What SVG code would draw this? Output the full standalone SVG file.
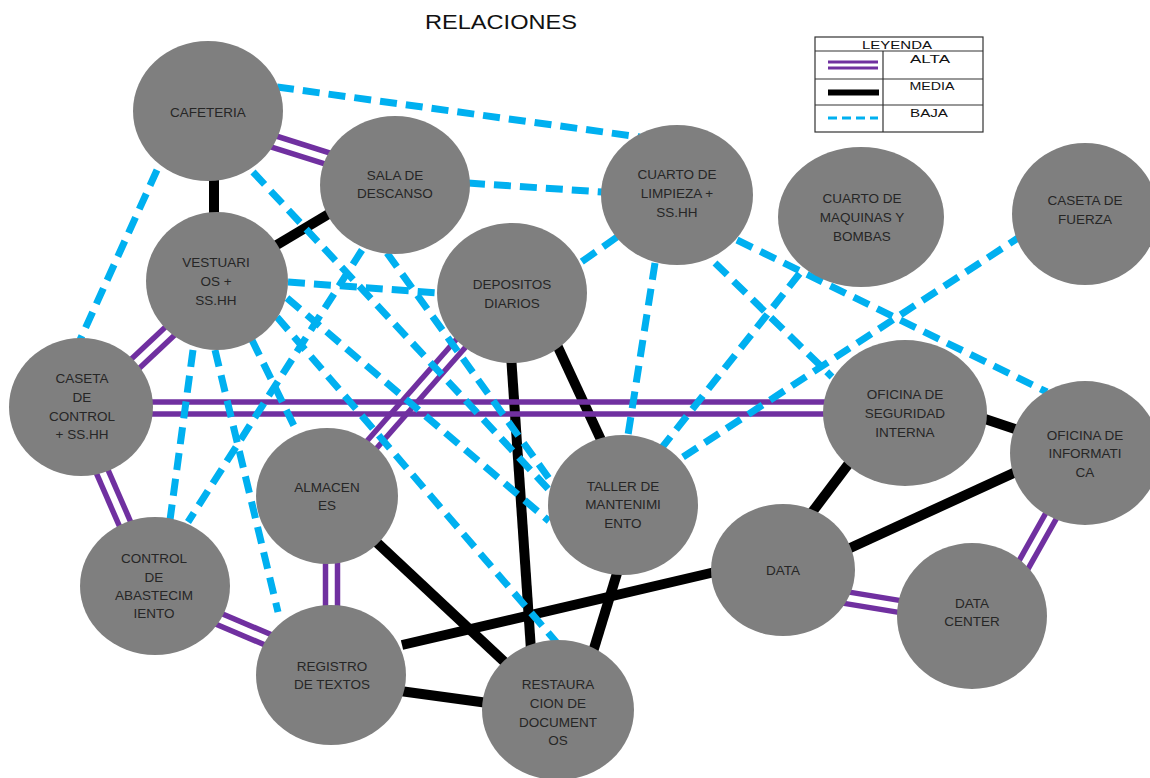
<svg xmlns="http://www.w3.org/2000/svg" width="1150" height="778" viewBox="0 0 1150 778">
<style>
.bg{fill:#ffffff}
.node{fill:#7f7f7f}
.lbl{font-family:"Liberation Sans",Arial,sans-serif;font-size:13.5px;fill:#262626;text-anchor:middle}
.title{font-family:"Liberation Sans",Arial,sans-serif;font-size:21px;fill:#111;text-anchor:middle}
.leg{font-family:"Liberation Sans",Arial,sans-serif;font-size:10.5px;fill:#111;text-anchor:middle}
.alta{stroke:#7030a0;stroke-width:5.5;fill:none}
.media{stroke:#000;stroke-width:10;fill:none}
.baja{stroke:#00b0f0;stroke-width:7;stroke-dasharray:17 9;fill:none}
.grid{stroke:#333;stroke-width:1.2;fill:none}
</style>
<rect class="bg" x="0" y="0" width="1150" height="778"/>
<text class="title" x="501" y="29" textLength="152" lengthAdjust="spacingAndGlyphs">RELACIONES</text>

<g id="connectors">
  <g id="media">
    <line class="media" x1="214" y1="175" x2="214" y2="218"/>
    <line class="media" x1="275" y1="246" x2="332" y2="212"/>
    <line class="media" x1="511" y1="355" x2="531" y2="650"/>
    <line class="media" x1="557" y1="345" x2="602" y2="442"/>
    <line class="media" x1="372" y1="538" x2="510" y2="667"/>
    <line class="media" x1="400" y1="691" x2="488" y2="703"/>
    <line class="media" x1="402" y1="645" x2="715" y2="572"/>
    <line class="media" x1="618" y1="570" x2="592" y2="655"/>
    <line class="media" x1="850" y1="462" x2="810" y2="515"/>
    <line class="media" x1="982" y1="418" x2="1018" y2="430"/>
    <line class="media" x1="848" y1="549" x2="1020" y2="470"/>
  </g>
  <g id="alta">
    <line class="alta" x1="248.2" y1="139.7" x2="343.2" y2="169.7"/>
    <line class="alta" x1="251.8" y1="128.3" x2="346.8" y2="158.3"/>
    <line class="alta" x1="124.1" y1="382.4" x2="189.1" y2="321.4"/>
    <line class="alta" x1="115.9" y1="373.6" x2="180.9" y2="312.6"/>
    <line class="alta" x1="140" y1="402" x2="840" y2="402"/>
    <line class="alta" x1="140" y1="414" x2="840" y2="414"/>
    <line class="alta" x1="89.5" y1="457.4" x2="126.5" y2="542.4"/>
    <line class="alta" x1="100.5" y1="452.6" x2="137.5" y2="537.6"/>
    <line class="alta" x1="202.6" y1="618.5" x2="282.6" y2="652.5"/>
    <line class="alta" x1="207.4" y1="607.5" x2="287.4" y2="641.5"/>
    <line class="alta" x1="325.5" y1="550" x2="325.5" y2="620"/>
    <line class="alta" x1="337.5" y1="550" x2="337.5" y2="620"/>
    <line class="alta" x1="465.5" y1="329" x2="355.5" y2="454"/>
    <line class="alta" x1="474.5" y1="337" x2="364.5" y2="462"/>
    <line class="alta" x1="829" y1="600.9" x2="914" y2="614.9"/>
    <line class="alta" x1="831" y1="589.1" x2="916" y2="603.1"/>
    <line class="alta" x1="1020.2" y1="582.9" x2="1065.2" y2="502.9"/>
    <line class="alta" x1="1009.8" y1="577.1" x2="1054.8" y2="497.1"/>
  </g>
  <g id="baja">
    <line class="baja" x1="277" y1="87" x2="640" y2="137"/>
    <line class="baja" x1="468" y1="183" x2="602" y2="192"/>
    <line class="baja" x1="157" y1="170" x2="80" y2="340"/>
    <line class="baja" x1="253" y1="172" x2="551" y2="492"/>
    <line class="baja" x1="362" y1="250" x2="188" y2="522"/>
    <line class="baja" x1="387" y1="253" x2="553" y2="484"/>
    <line class="baja" x1="288" y1="282" x2="438" y2="293"/>
    <line class="baja" x1="193" y1="350" x2="170" y2="520"/>
    <line class="baja" x1="215" y1="350" x2="278" y2="612"/>
    <line class="baja" x1="252" y1="340" x2="297" y2="432"/>
    <line class="baja" x1="287" y1="298" x2="549" y2="521"/>
    <line class="baja" x1="277" y1="317" x2="557" y2="643"/>
    <line class="baja" x1="617" y1="237" x2="580" y2="263"/>
    <line class="baja" x1="655" y1="263" x2="628" y2="435"/>
    <line class="baja" x1="715" y1="263" x2="832" y2="377"/>
    <line class="baja" x1="737" y1="240" x2="1047" y2="392"/>
    <line class="baja" x1="660" y1="450" x2="800" y2="273"/>
    <line class="baja" x1="683" y1="457" x2="1018" y2="238"/>
  </g>
</g>

<g id="cafeteria"><ellipse class="node" cx="208" cy="111" rx="75" ry="70"/><text class="lbl" x="208" y="117">CAFETERIA</text></g>
<g id="sala-descanso"><ellipse class="node" cx="395" cy="185" rx="75" ry="69"/><text class="lbl" x="395" y="180">SALA DE</text><text class="lbl" x="395" y="198">DESCANSO</text></g>
<g id="vestuarios"><ellipse class="node" cx="217" cy="281" rx="71" ry="69"/><text class="lbl" x="216" y="267">VESTUARI</text><text class="lbl" x="216" y="286">OS +</text><text class="lbl" x="216" y="305">SS.HH</text></g>
<g id="caseta-control"><ellipse class="node" cx="81" cy="407" rx="72" ry="69"/><text class="lbl" x="82" y="383">CASETA</text><text class="lbl" x="82" y="402">DE</text><text class="lbl" x="82" y="421">CONTROL</text><text class="lbl" x="82" y="439">+ SS.HH</text></g>
<g id="control-abastecimiento"><ellipse class="node" cx="155" cy="586" rx="75" ry="69"/><text class="lbl" x="154" y="563">CONTROL</text><text class="lbl" x="154" y="582">DE</text><text class="lbl" x="154" y="600">ABASTECIM</text><text class="lbl" x="154" y="618">IENTO</text></g>
<g id="almacenes"><ellipse class="node" cx="327" cy="496" rx="71" ry="68"/><text class="lbl" x="327" y="492">ALMACEN</text><text class="lbl" x="327" y="510">ES</text></g>
<g id="registro-textos"><ellipse class="node" cx="331" cy="675" rx="75" ry="70"/><text class="lbl" x="332" y="671">REGISTRO</text><text class="lbl" x="332" y="689">DE TEXTOS</text></g>
<g id="restauracion"><ellipse class="node" cx="558" cy="710" rx="76" ry="70"/><text class="lbl" x="558" y="689">RESTAURA</text><text class="lbl" x="558" y="708">CION DE</text><text class="lbl" x="558" y="727">DOCUMENT</text><text class="lbl" x="558" y="745">OS</text></g>
<g id="taller"><ellipse class="node" cx="623" cy="505" rx="75" ry="70"/><text class="lbl" x="623" y="491">TALLER DE</text><text class="lbl" x="623" y="509">MANTENIMI</text><text class="lbl" x="623" y="528">ENTO</text></g>
<g id="depositos"><ellipse class="node" cx="512" cy="293" rx="75" ry="70"/><text class="lbl" x="512" y="289">DEPOSITOS</text><text class="lbl" x="512" y="308">DIARIOS</text></g>
<g id="cuarto-limpieza"><ellipse class="node" cx="677" cy="195" rx="76" ry="70"/><text class="lbl" x="677" y="179">CUARTO DE</text><text class="lbl" x="677" y="198">LIMPIEZA +</text><text class="lbl" x="677" y="217">SS.HH</text></g>
<g id="cuarto-maquinas"><ellipse class="node" cx="861" cy="217" rx="83" ry="70"/><text class="lbl" x="862" y="203">CUARTO DE</text><text class="lbl" x="862" y="222">MAQUINAS Y</text><text class="lbl" x="862" y="241">BOMBAS</text></g>
<g id="caseta-fuerza"><ellipse class="node" cx="1085" cy="214" rx="73" ry="71"/><text class="lbl" x="1085" y="205">CASETA DE</text><text class="lbl" x="1085" y="224">FUERZA</text></g>
<g id="oficina-seguridad"><ellipse class="node" cx="905" cy="413" rx="82" ry="73"/><text class="lbl" x="905" y="399">OFICINA DE</text><text class="lbl" x="905" y="418">SEGURIDAD</text><text class="lbl" x="905" y="437">INTERNA</text></g>
<g id="oficina-informatica"><ellipse class="node" cx="1085" cy="453" rx="75" ry="72"/><text class="lbl" x="1085" y="440">OFICINA DE</text><text class="lbl" x="1085" y="458">INFORMATI</text><text class="lbl" x="1085" y="477">CA</text></g>
<g id="data"><ellipse class="node" cx="783" cy="570" rx="72" ry="66"/><text class="lbl" x="783" y="575">DATA</text></g>
<g id="data-center"><ellipse class="node" cx="972" cy="616" rx="75" ry="73"/><text class="lbl" x="972" y="608">DATA</text><text class="lbl" x="972" y="626">CENTER</text></g>

<g id="leyenda">
  <rect class="grid" x="815" y="37" width="168" height="95"/>
  <line class="grid" x1="815" y1="51" x2="983" y2="51"/>
  <line class="grid" x1="815" y1="79" x2="983" y2="79"/>
  <line class="grid" x1="815" y1="105" x2="983" y2="105"/>
  <line class="grid" x1="883" y1="51" x2="883" y2="132"/>
  <text class="leg" x="897" y="49" textLength="70" lengthAdjust="spacingAndGlyphs">LEYENDA</text>
  <text class="leg" x="930" y="63" textLength="40" lengthAdjust="spacingAndGlyphs">ALTA</text>
  <text class="leg" x="932" y="90" textLength="45" lengthAdjust="spacingAndGlyphs">MEDIA</text>
  <text class="leg" x="929" y="117" textLength="38" lengthAdjust="spacingAndGlyphs">BAJA</text>
  <line x1="828" y1="62" x2="878" y2="62" stroke="#7030a0" stroke-width="3"/>
  <line x1="828" y1="68" x2="878" y2="68" stroke="#7030a0" stroke-width="3"/>
  <line x1="828" y1="92.5" x2="879" y2="92.5" stroke="#000" stroke-width="6"/>
  <line x1="828" y1="118" x2="878" y2="118" stroke="#00b0f0" stroke-width="3" stroke-dasharray="9 5"/>
</g>
</svg>
